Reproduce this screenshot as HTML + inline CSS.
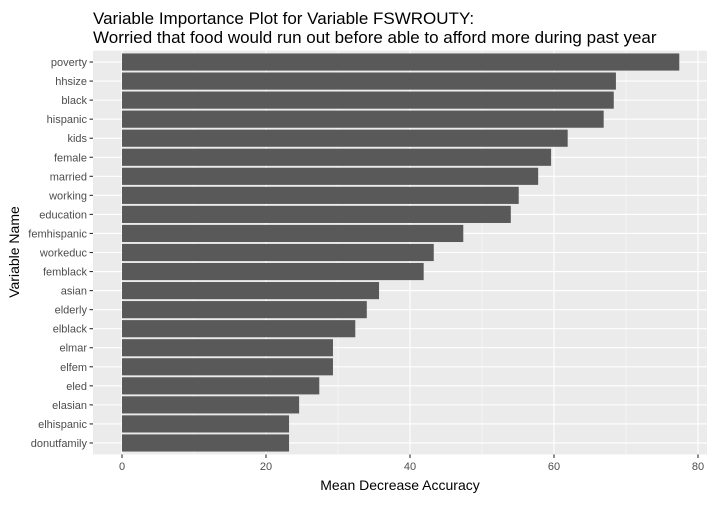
<!DOCTYPE html>
<html><head><meta charset="utf-8"><style>
body{margin:0;background:#fff;font-family:"Liberation Sans",Arial,sans-serif;}
</style></head><body>
<svg width="715" height="500" xmlns="http://www.w3.org/2000/svg" font-family="Liberation Sans, Arial, sans-serif">
<text x="93" y="24" font-size="17" fill="#000">Variable Importance Plot for Variable FSWROUTY:</text>
<text x="93" y="43" font-size="17" fill="#000">Worried that food would run out before able to afford more during past year</text>
<rect x="93" y="50.6" width="614" height="403.8" fill="#EBEBEB"/>
<g id="grid"></g><g id="bars"></g><g id="yticks"></g><g id="xticks"></g>
<text x="400" y="490" font-size="14" text-anchor="middle" fill="#000">Mean Decrease Accuracy</text>
<text transform="translate(19,252) rotate(-90)" font-size="14" text-anchor="middle" fill="#000">Variable Name</text>
</svg>
<script>
const categories=["poverty","hhsize","black","hispanic","kids","female","married","working","education","femhispanic","workeduc","femblack","asian","elderly","elblack","elmar","elfem","eled","elasian","elhispanic","donutfamily"];
const values=[77.4,68.6,68.3,66.9,61.9,59.6,57.8,55.1,54.0,47.4,43.3,41.9,35.7,34.0,32.4,29.3,29.3,27.4,24.6,23.2,23.2];
const xTicks=[0,20,40,60,80];
const xMinor=[10,30,50,70];
const NS="http://www.w3.org/2000/svg";
const x=v=>122+v*7.2;
const step=403.8/21.2;
const y=i=>50.6+(0.6+i)*step;
function mk(t,a,p){const e=document.createElementNS(NS,t);for(const k in a)e.setAttribute(k,a[k]);p.appendChild(e);return e;}
const g=document.getElementById('grid'),b=document.getElementById('bars'),yt=document.getElementById('yticks'),xt=document.getElementById('xticks');
xMinor.forEach(v=>{const l=mk('line',{x1:x(v),x2:x(v),y1:50.6,y2:454.4,stroke:'#fff','stroke-width':0.5},g);

});
xTicks.forEach(v=>{const l=mk('line',{x1:x(v),x2:x(v),y1:50.6,y2:454.4,stroke:'#fff','stroke-width':1.1},g);


const tk=mk('line',{x1:x(v),x2:x(v),y1:454.4,y2:458,stroke:'#333','stroke-width':1.1},xt);


const t=mk('text',{x:x(v),y:470,'font-size':11,'text-anchor':'middle',fill:'#4D4D4D'},xt);t.textContent=v;

});
categories.forEach((c,i)=>{const yy=y(i);
const l=mk('line',{x1:93,x2:707,y1:yy,y2:yy,stroke:'#fff','stroke-width':1.1},g);


const r=mk('rect',{x:x(0),y:yy-step*0.45,width:x(values[i])-x(0),height:step*0.9,fill:'#595959'},b);


const tk=mk('line',{x1:89.5,x2:93,y1:yy,y2:yy,stroke:'#333','stroke-width':1.1},yt);


const t=mk('text',{x:87,y:yy+4,'font-size':11,'text-anchor':'end',fill:'#4D4D4D'},yt);t.textContent=c;

});
</script>
</body></html>
